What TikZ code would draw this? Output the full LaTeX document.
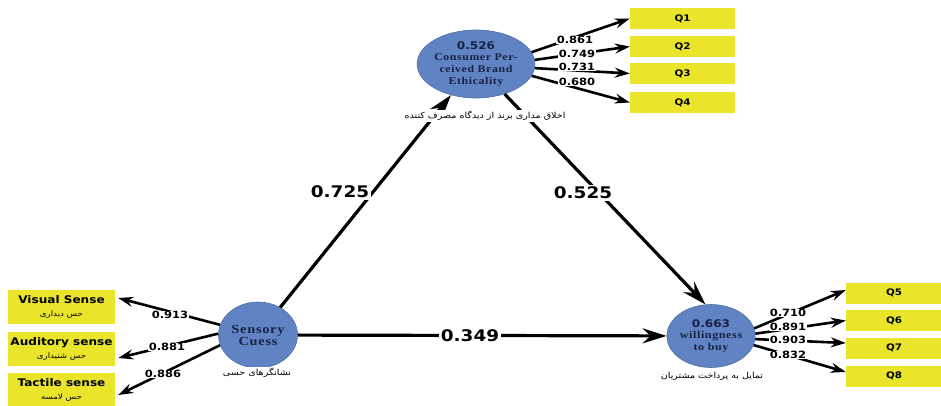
\documentclass[tikz,border=0pt]{standalone}
\usepackage{fontspec}
\setmainfont{DejaVu Sans}
\newfontfamily\lblfont{DejaVu Sans}
\newfontfamily\serifb[LetterSpace=5]{Liberation Serif}
\newfontfamily\arabicfont[Script=Arabic]{DejaVu Sans}
\TeXXeTstate=1
\usetikzlibrary{shapes.geometric,arrows.meta}
\definecolor{boxyellow}{RGB}{234,229,42}
\definecolor{circblue}{RGB}{96,131,196}
\definecolor{circtext}{RGB}{24,34,68}
\newcommand{\sx}[1]{\scalebox{1.15}[1]{#1}}
\newcommand{\fa}[1]{\scalebox{1.15}[1]{\arabicfont\beginR #1\endR}}
\begin{document}
\begin{tikzpicture}[x=1pt,y=-1pt,
  lv/.style={ellipse, fill=circblue, draw=circblue!85!black, line width=0.6pt,
    inner sep=0pt, align=center, text=circtext},
  qbox/.style={rectangle, fill=boxyellow, minimum height=21pt, inner sep=0pt,
    font=\lblfont\bfseries\fontsize{9}{10}\selectfont},
  sbox/.style={rectangle, fill=boxyellow, minimum width=107pt, minimum height=34pt,
    inner sep=0pt, align=center},
  mainarr/.style={line width=3.2pt, -{Stealth[length=24pt,width=15pt,inset=8pt]}},
  indarr/.style={line width=2.6pt, -{Stealth[length=15pt,width=10pt,inset=5pt]}},
  big/.style={font=\lblfont\bfseries\fontsize{16}{18}\selectfont, fill=white, inner sep=2pt},
  small/.style={font=\lblfont\bfseries\fontsize{10}{11}\selectfont, fill=white, inner sep=0.6pt},
  fatext/.style={font=\fontsize{8.3}{9}\selectfont, inner sep=1pt, fill=white},
]
\useasboundingbox (0,0) rectangle (941,405);

% latent variables
\node[lv, minimum width=78pt, minimum height=68pt] (top) at (476,64)
  {\sx{\lblfont\bfseries\fontsize{10.5}{12.5}\selectfont 0.526}\\[-1pt]
   \serifb\bfseries\fontsize{10.3}{12.5}\selectfont\sx{Consumer Per-}\\
   \serifb\bfseries\fontsize{10.3}{12.5}\selectfont\sx{ceived Brand}\\
   \serifb\bfseries\fontsize{10.3}{12.5}\selectfont\sx{Ethicality}};
\node[lv, minimum width=79pt, minimum height=66pt] (sens) at (258,335)
  {\serifb\bfseries\fontsize{12.5}{18}\selectfont\sx{Sensory}\\
   \serifb\bfseries\fontsize{12.5}{18}\selectfont\sx{Cuess}};
\node[lv, minimum width=77pt, minimum height=63pt] (will) at (711,336)
  {\sx{\lblfont\bfseries\fontsize{10.5}{13}\selectfont 0.663}\\[-1pt]
   \serifb\bfseries\fontsize{10.5}{14}\selectfont\sx{willingness}\\
   \serifb\bfseries\fontsize{10.5}{14}\selectfont\sx{to buy}};

% indicator boxes (top)
\node[qbox, minimum width=105pt] (q1) at (682.5,18.5) {\sx{Q1}};
\node[qbox, minimum width=105pt] (q2) at (682.5,46.5) {\sx{Q2}};
\node[qbox, minimum width=105pt] (q3) at (682.5,73.5) {\sx{Q3}};
\node[qbox, minimum width=105pt] (q4) at (682.5,102.5) {\sx{Q4}};
% indicator boxes (right)
\node[qbox, minimum width=96pt] (q5) at (894,293) {\sx{Q5}};
\node[qbox, minimum width=96pt] (q6) at (894,320.5) {\sx{Q6}};
\node[qbox, minimum width=96pt] (q7) at (894,348) {\sx{Q7}};
\node[qbox, minimum width=96pt] (q8) at (894,376) {\sx{Q8}};
% indicator boxes (left)
\node[sbox] (vis) at (61.5,307)
  {\sx{\lblfont\bfseries\fontsize{10.5}{12}\selectfont Visual Sense}\\[1pt]
   \fontsize{7.5}{8}\selectfont\fa{حس دیداری}};
\node[sbox] (aud) at (61.5,349)
  {\sx{\lblfont\bfseries\fontsize{10.5}{12}\selectfont Auditory sense}\\[1pt]
   \fontsize{7.5}{8}\selectfont\fa{حس شنیداری}};
\node[sbox] (tac) at (61.5,390)
  {\sx{\lblfont\bfseries\fontsize{10.5}{12}\selectfont Tactile sense}\\[1pt]
   \fontsize{7.5}{8}\selectfont\fa{حس لامسه}};

% structural paths
\draw[mainarr] (sens) -- (top);
\draw[mainarr] (top) -- (will.100);
\draw[mainarr] (sens) -- (will);
\node[big] (p1) at (340,192) {\sx{0.725}};
\node[big] (p2) at (583,193) {\sx{0.525}};
\node[big] (p3) at (470,336) {\sx{0.349}};

% Persian captions
\node[fatext] (capTop) at (485,116) {\fa{اخلاق مداری برند از دیدگاه مصرف کننده}};
\node[fatext] (capSens) at (257,373) {\fa{نشانگرهای حسی}};
\node[fatext] (capWill) at (712,376) {\fa{تمایل به پرداخت مشتریان}};

% outer loadings (top)
\draw[indarr] (top.12) -- (q1.west);
\draw[indarr] (top.4) -- (q2.west);
\draw[indarr] (top.-4) -- (q3.west);
\draw[indarr] (top.-12) -- (q4.west);
\node[small] (l1) at (575,40) {\sx{0.861}};
\node[small] (l2) at (577,53.5) {\sx{0.749}};
\node[small] (l3) at (577,66.5) {\sx{0.731}};
\node[small] (l4) at (577,82) {\sx{0.680}};

% outer loadings (right)
\draw[indarr] (will.10) -- ([yshift=3pt]q5.west);
\draw[indarr] (will.3) -- (q6.west);
\draw[indarr] (will.-4) -- ([yshift=5pt]q7.west);
\draw[indarr] (will.-12) -- ([yshift=4pt]q8.west);
\node[small] (l5) at (788,313) {\sx{0.710}};
\node[small] (l6) at (788,327) {\sx{0.891}};
\node[small] (l7) at (788,340) {\sx{0.903}};
\node[small] (l8) at (788,355) {\sx{0.832}};

% outer loadings (left)
\draw[indarr] (sens.165) -- ([xshift=3pt,yshift=9pt]vis.east);
\draw[indarr] (sens.178) -- ([xshift=3pt,yshift=-9pt]aud.east);
\draw[indarr] (sens.195) -- ([xshift=3pt,yshift=-5pt]tac.east);
\node[small] (l9) at (170,315) {\sx{0.913}};
\node[small] (l10) at (167,347) {\sx{0.881}};
\node[small] (l11) at (163,374) {\sx{0.886}};
\end{tikzpicture}
\end{document}
